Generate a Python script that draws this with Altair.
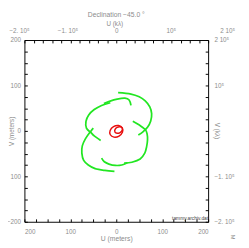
import altair as alt
import pandas as pd

# ---------------- data (U, V in meters) ----------------
arc_a_u = [4, 32, 50, 63, 73, 77, 75, 68, 58, 48]
arc_a_v = [84, 81, 75, 66, 53, 38, 22, 8, -2, -9]
arc_b_u = [36, 53, 63, 67, 68, 66, 62, 52, 34, 17]
arc_b_v = [21, 11, 3, -6, -20, -35, -49, -62, -69, -71]
arc_c_u = [-13, -32, -48, -60, -66, -65, -55, -48, -34]
arc_c_v = [62, 56, 47, 35, 21, 6, -4, -11, -21]
arc_d_u = [-50, -55, -67, -74, -75, -71, -61, -46, -25, -4]
arc_d_v = [6, 0, -17, -33, -49, -65, -75, -83, -87, -89]
arc_e_u = [-27, -15, 2, 19, 28, 32]
arc_e_v = [60, 65, 70, 72, 68, 56]
arc_f_u = [-32, -26, -16, -2, 12, 24]
arc_f_v = [-60, -68, -73, -76, -75, -70]

loop1_u = [13.0, 5.0, -6.0, -13.4, -13.0, -5.0, 6.0, 13.4]
loop1_v = [6.5, 11.7, 9.4, 1.1, -8.5, -13.7, -11.4, -3.1]
loop2_u = [12.8, 8.2, 1.8, -2.8, -2.8, 1.8, 8.3, 12.8]
loop2_v = [6.5, 9.2, 7.6, 2.8, -2.5, -5.2, -3.6, 1.2]

# axis ticks and labels
m_ticks = [-200, -175, -150, -125, -100, -75, -50, -25, 0, 25, 50, 75, 100, 125, 150, 175, 200]
top_ticks = [-200, -180, -160, -140, -120, -100, -80, -60, -40, -20, 0, 20, 40, 60, 80, 100, 120, 140, 160, 180, 200]
label_vals = [-200, -100, 0, 100, 200]
bottom_labels = ["200", "100", "0", "100", "200"]
left_labels = ["\u2212200", "100", "0", "100", "200"]
top_labels = ["\u22122. 10\u2075", "\u22121. 10\u2075", "0", "10\u2075", "2 10\u2075"]
right_labels = ["\u22122. 10\u2075", "\u22121. 10\u2075", "", "10\u2075", "2 10\u2075"]

GREEN = "#22e622"
RED = "#e81010"
GRAY = "#8c8c8c"
FONT = "Liberation Sans"

rows = []
for name, us, vs in [("a", arc_a_u, arc_a_v), ("b", arc_b_u, arc_b_v), ("c", arc_c_u, arc_c_v),
                     ("d", arc_d_u, arc_d_v), ("e", arc_e_u, arc_e_v), ("f", arc_f_u, arc_f_v)]:
    for i, (u, v) in enumerate(zip(us, vs)):
        rows.append({"arc": name, "i": i, "u": u, "v": v})
df_green = pd.DataFrame(rows)

rows = []
for name, us, vs in [("l1", loop1_u, loop1_v), ("l2", loop2_u, loop2_v)]:
    for i, (u, v) in enumerate(zip(us, vs)):
        rows.append({"loop": name, "i": i, "u": u, "v": v})
df_red = pd.DataFrame(rows)


def label_expr(vals, texts):
    parts = [f"datum.value == {v} ? '{t}'" for v, t in zip(vals, texts)]
    return " : ".join(parts) + " : ''"


xs = alt.Scale(domain=[-200, 200], nice=False, zero=False)
ys = alt.Scale(domain=[-200, 200], nice=False, zero=False)

common = dict(domain=False, grid=False, tickSize=3, tickColor="black", tickWidth=1,
              offset=-3, labelFont=FONT, labelFontSize=6.5, labelColor=GRAY,
              labelOverlap=False, labelBound=False, titleFont=FONT, titleColor=GRAY,
              titleFontWeight="normal", titleBaseline="middle", titleAlign="center")

axis_bottom = alt.Axis(orient="bottom", values=m_ticks, labelExpr=label_expr(label_vals, bottom_labels),
                       labelFlush=True, labelPadding=7, title="U (meters)", titleX=95, titleY=20,
                       titleFontSize=7, **common)
axis_left = alt.Axis(orient="left", values=m_ticks, labelExpr=label_expr(label_vals, left_labels),
                     labelPadding=4, labelFlush=False, title="V (meters)", titleX=-16, titleY=94,
                     titleAngle=270, titleFontSize=6.5, **common)
axis_top = alt.Axis(orient="top", values=top_ticks, labelExpr=label_expr(label_vals, top_labels),
                    labelFlush=False, labelPadding=7,
                    labelAlign={"condition": [{"test": "datum.value == -200 || datum.value == 200",
                                               "value": "left"}],
                                "value": "center"},
                    labelOffset={"condition": [{"test": "datum.value == -200", "value": -16},
                                               {"test": "datum.value == -100", "value": -3},
                                               {"test": "datum.value == 100", "value": 9},
                                               {"test": "datum.value == 200", "value": 12}],
                                 "value": 0},
                    title="U (k\u03bb)", titleX=93, titleY=-20.5, titleFontSize=6.5, **common)
axis_right = alt.Axis(orient="right", values=m_ticks, labelExpr=label_expr(label_vals, right_labels),
                      labelFlush=False, labelPadding=6, labelAlign="left", title="", **common)

green = alt.Chart(df_green).mark_line(interpolate="cardinal", strokeWidth=1.8, color=GREEN, clip=True).encode(
    x=alt.X("u:Q", scale=xs, axis=axis_bottom),
    y=alt.Y("v:Q", scale=ys, axis=axis_left),
    detail="arc:N",
    order="i:Q",
)

red = alt.Chart(df_red).mark_line(interpolate="cardinal-closed", strokeWidth=1.5, color=RED, clip=True).encode(
    x=alt.X("u:Q", scale=xs, axis=axis_top),
    y=alt.Y("v:Q", scale=ys, axis=axis_right),
    detail="loop:N",
    order="i:Q",
)

one = pd.DataFrame({"k": [0]})
decl = alt.Chart(one).mark_text(text="Declination \u221245.0 \u00b0", font=FONT, fontSize=7, color=GRAY,
                                align="center", baseline="middle").encode(
    x=alt.value(95), y=alt.value(-25.5))
vkl = alt.Chart(one).mark_text(text="V (k\u03bb)", font=FONT, fontSize=6.5, color=GRAY, angle=90,
                               align="center", baseline="middle").encode(
    x=alt.value(199), y=alt.value(94))
tag = alt.Chart(one).mark_text(text="tammy.archiv.dat", font=FONT, fontSize=5, color="#444444",
                               align="right", baseline="bottom").encode(
    x=alt.value(190), y=alt.value(187))
mark_m = alt.Chart(one).mark_text(text="M", font=FONT, fontSize=6, color=GRAY, angle=90,
                                  align="center", baseline="middle").encode(
    x=alt.value(216), y=alt.value(204))

chart = alt.layer(green, red, decl, vkl, tag, mark_m).resolve_axis(x="independent", y="independent").properties(
    width=190, height=188,
    autosize=alt.AutoSizeParams(type="none"),
    padding={"left": 17, "top": 29, "right": 34, "bottom": 23},
).configure_view(stroke="black", strokeWidth=1)

chart.save("out.html", embed_options={"renderer": "svg", "actions": False})
